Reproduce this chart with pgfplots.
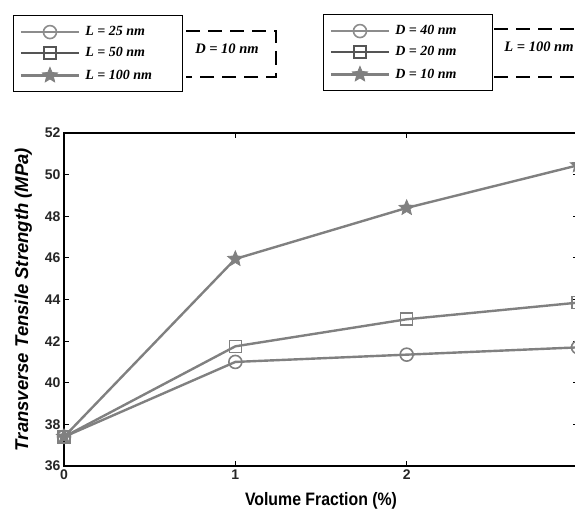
\documentclass[border=0pt]{standalone}
\usepackage{fontspec}
\setmainfont{Liberation Serif}
\setsansfont{Liberation Sans}
\usepackage{pgfplots}
\pgfplotsset{compat=1.18}
\usetikzlibrary{plotmarks}
\definecolor{lgray}{RGB}{128,128,128}
\definecolor{dgray}{RGB}{85,85,85}
\pgfdeclareplotmark{fstar}{%
  \pgfpathmoveto{\pgfpointpolar{90}{\pgfplotmarksize}}%
  \pgfpathlineto{\pgfpointpolar{126}{0.45\pgfplotmarksize}}%
  \pgfpathlineto{\pgfpointpolar{162}{\pgfplotmarksize}}%
  \pgfpathlineto{\pgfpointpolar{198}{0.45\pgfplotmarksize}}%
  \pgfpathlineto{\pgfpointpolar{234}{\pgfplotmarksize}}%
  \pgfpathlineto{\pgfpointpolar{270}{0.45\pgfplotmarksize}}%
  \pgfpathlineto{\pgfpointpolar{306}{\pgfplotmarksize}}%
  \pgfpathlineto{\pgfpointpolar{342}{0.45\pgfplotmarksize}}%
  \pgfpathlineto{\pgfpointpolar{18}{\pgfplotmarksize}}%
  \pgfpathlineto{\pgfpointpolar{54}{0.45\pgfplotmarksize}}%
  \pgfpathclose\pgfusepathqfillstroke}
\pgfplotstableread{
x y25 y50 y100
0 37.4 37.4 37.4
1 41.0 41.75 45.95
2 41.35 43.05 48.4
3 41.7 43.85 50.45
}\datatab
\newcommand{\legtxt}[1]{\makebox[86pt][l]{\fontsize{14}{16}\selectfont\bfseries\itshape #1}}
\pgfplotsset{
  mylegend/.style={
    legend cell align=left,
    legend image code/.code={\draw[mark repeat=2,mark phase=2,##1,line width=2.7pt] plot coordinates {(0pt,0pt)(29pt,0pt)(58pt,0pt)};},
    legend style={draw=black, line width=1.2pt, inner xsep=6pt, inner ysep=10pt, row sep=8pt,
      nodes={inner xsep=5pt, inner ysep=1pt}},
  },
  sC/.style={color=lgray, line width=2.4pt, mark=o, mark size=6.5pt, mark options={line width=1.6pt, solid}},
  sS/.style={color=lgray, line width=2.4pt, mark=square, mark size=6pt, mark options={line width=1.6pt, solid}},
  sT/.style={color=lgray, line width=2.4pt, mark=fstar, mark size=8pt, mark options={line width=0.8pt, solid, fill=lgray}},
}
\begin{document}
\begin{tikzpicture}
\begin{axis}[
  at={(0pt,0pt)}, anchor=south west,
  scale only axis, width=514pt, height=333pt,
  xmin=0, xmax=3, ymin=36, ymax=52,
  xtick={0,1,2,3}, xticklabels={0,1,2,},
  ytick={36,38,...,52},
  tick align=inside, major tick length=5pt,
  axis line style={line width=1.3pt, black},
  tick style={line width=1pt, black},
  every tick label/.append style={font=\sffamily\bfseries\fontsize{14}{15}\selectfont, text=black!85},
  /pgf/number format/assume math mode=true,
  xlabel={\addfontfeature{FakeStretch=0.88}Volume Fraction (\%)},
  ylabel={Transverse Tensile Strength (MPa)},
  xlabel style={font=\sffamily\bfseries\fontsize{18}{20}\selectfont, yshift=-6pt},
  ylabel style={font=\sffamily\bfseries\itshape\fontsize{18.5}{20}\selectfont, yshift=6pt},
  clip=false,
  mylegend,
  legend style={at={(axis description cs:-0.0992,1.3544)}, anchor=north west},
]
\addplot[sC, forget plot] table[x=x, y=y25] {\datatab};
\addplot[sS, forget plot] table[x=x, y=y50] {\datatab};
\addplot[sT, forget plot] table[x=x, y=y100] {\datatab};
\addlegendimage{color=gray!90, mark=o, mark size=6.5pt, mark options={line width=1.6pt}}
\addlegendentry{\legtxt{L = 25 nm}}
\addlegendimage{color=dgray, mark=square, mark size=6pt, mark options={line width=1.6pt}}
\addlegendentry{\legtxt{L = 50 nm}}
\addlegendimage{color=lgray, mark=fstar, mark size=8pt, mark options={line width=0.8pt, fill=lgray}}
\addlegendentry{\legtxt{L = 100 nm}}
\end{axis}
\begin{axis}[
  at={(0pt,0pt)}, anchor=south west,
  scale only axis, width=514pt, height=333pt,
  xmin=0, xmax=1, ymin=0, ymax=1, hide axis,
  mylegend,
  legend style={at={(axis description cs:0.5039,1.3574)}, anchor=north west},
]
\addlegendimage{color=gray!90, mark=o, mark size=6.5pt, mark options={line width=1.6pt}}
\addlegendentry{\legtxt{D = 40 nm}}
\addlegendimage{color=dgray, mark=square, mark size=6pt, mark options={line width=1.6pt}}
\addlegendentry{\legtxt{D = 20 nm}}
\addlegendimage{color=lgray, mark=fstar, mark size=8pt, mark options={line width=0.8pt, fill=lgray}}
\addlegendentry{\legtxt{D = 10 nm}}
\end{axis}
\draw[line width=1.2pt, dash pattern=on 14pt off 8pt] (122pt,435pt) -- (212pt,435pt) -- (212pt,389pt) -- (122pt,389pt);
\node[font=\fontsize{14.5}{16}\selectfont\bfseries\itshape] at (163pt,417pt) {D = 10 nm};
\draw[line width=1.2pt, dash pattern=on 14pt off 8pt] (430pt,437pt) -- (520pt,437pt);
\draw[line width=1.2pt, dash pattern=on 14pt off 8pt] (430pt,389pt) -- (520pt,389pt);
\node[font=\fontsize{14.5}{16}\selectfont\bfseries\itshape] at (475pt,419pt) {L = 100 nm};
\pgfresetboundingbox
\useasboundingbox (-64pt,-47pt) rectangle (511pt,466pt);
\end{tikzpicture}
\end{document}
